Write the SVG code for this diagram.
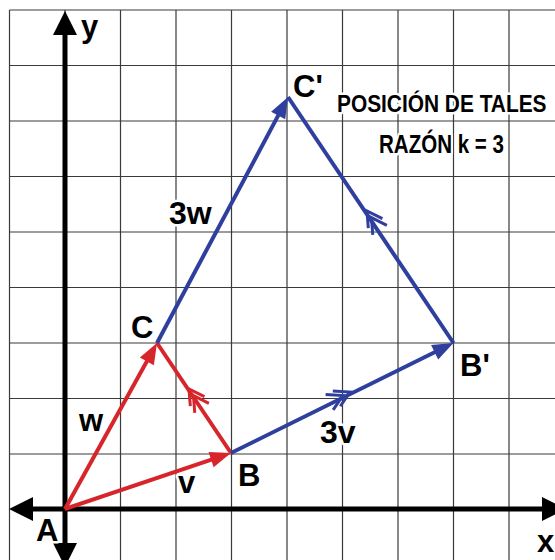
<svg xmlns="http://www.w3.org/2000/svg" xmlns:xlink="http://www.w3.org/1999/xlink" width="555" height="560" viewBox="0 0 555 560">
<style>
.grid line{stroke:#3a3a3a;stroke-width:1.2}
.axis{stroke:#000;stroke-width:5}
.red{stroke:#d7262b;stroke-width:4;fill:none}
.blue{stroke:#2f3f9e;stroke-width:4;fill:none}
.lbl{font-family:"Liberation Sans",Arial,sans-serif;font-weight:bold;font-size:31px;fill:#000;stroke:#fff;stroke-width:5;stroke-linejoin:round;paint-order:stroke fill}
.ttl{font-family:"Liberation Sans",Arial,sans-serif;font-weight:bold;fill:#000;stroke:#fff;stroke-width:5;stroke-linejoin:round;paint-order:stroke fill}
</style>
<defs>
<marker id="ahR" markerUnits="userSpaceOnUse" markerWidth="30" markerHeight="30" viewBox="-25 -15 30 30" refX="-12" refY="0" orient="auto" overflow="visible"><path d="M0,0 L-21,-8 L-21,8 Z" fill="#d7262b"/></marker>
<marker id="ahB" markerUnits="userSpaceOnUse" markerWidth="30" markerHeight="30" viewBox="-25 -15 30 30" refX="-12" refY="0" orient="auto" overflow="visible"><path d="M0,0 L-21,-8 L-21,8 Z" fill="#2f3f9e"/></marker>
<path id="chev" d="M-15,-8.5 L0,0 L-15,8.5 M-23,-8.5 L-8,0 L-23,8.5" fill="none" stroke-width="3"/>
</defs>
<rect width="555" height="560" fill="#fff"/>
<g class="grid">
<line x1="9.5" y1="10" x2="9.5" y2="560"/>
<line x1="65" y1="10" x2="65" y2="560"/>
<line x1="120.5" y1="10" x2="120.5" y2="560"/>
<line x1="176" y1="10" x2="176" y2="560"/>
<line x1="231.5" y1="10" x2="231.5" y2="560"/>
<line x1="287" y1="10" x2="287" y2="560"/>
<line x1="342.5" y1="10" x2="342.5" y2="560"/>
<line x1="398" y1="10" x2="398" y2="560"/>
<line x1="453.5" y1="10" x2="453.5" y2="560"/>
<line x1="509" y1="10" x2="509" y2="560"/>
<line x1="9.5" y1="10" x2="555" y2="10"/>
<line x1="9.5" y1="65.5" x2="555" y2="65.5"/>
<line x1="9.5" y1="121" x2="555" y2="121"/>
<line x1="9.5" y1="176.5" x2="555" y2="176.5"/>
<line x1="9.5" y1="232" x2="555" y2="232"/>
<line x1="9.5" y1="287.5" x2="555" y2="287.5"/>
<line x1="9.5" y1="343" x2="555" y2="343"/>
<line x1="9.5" y1="398.5" x2="555" y2="398.5"/>
<line x1="9.5" y1="454" x2="555" y2="454"/>
</g>
<g id="axes">
<line class="axis" x1="65" y1="30" x2="65" y2="545"/>
<line class="axis" x1="30" y1="509" x2="545" y2="509"/>
<polygon points="65,11 53,35 77,35" fill="#000"/>
<polygon points="65,567 53,543 77,543" fill="#000"/>
<polygon points="9,509 33,497 33,521" fill="#000"/>
<polygon points="566,509 542,497 542,521" fill="#000"/>
</g>
<g id="connectors">
<line class="red" x1="65" y1="509" x2="219.6" y2="456.8" marker-end="url(#ahR)"/>
<line class="red" x1="65" y1="509" x2="151.2" y2="353.5" marker-end="url(#ahR)"/>
<line class="red" x1="231" y1="453" x2="157" y2="343"/>
<use href="#chev" xlink:href="#chev" stroke="#d7262b" transform="translate(189,389) rotate(-123.9)"/>
<line class="blue" x1="157" y1="343" x2="282.4" y2="107.6" marker-end="url(#ahB)"/>
<line class="blue" x1="231" y1="453" x2="442.7" y2="348.3" marker-end="url(#ahB)"/>
<line class="blue" x1="453.5" y1="343" x2="288" y2="97"/>
<use href="#chev" xlink:href="#chev" stroke="#2f3f9e" transform="translate(367,211) rotate(-123.9)"/>
<use href="#chev" xlink:href="#chev" stroke="#2f3f9e" transform="translate(350,392) rotate(-26.3)"/>
</g>
<g id="labels">
<text class="lbl" x="81" y="37">y</text>
<text class="lbl" x="537" y="552">x</text>
<text id="A" class="lbl" x="36" y="541">A</text>
<text id="B" class="lbl" x="238" y="486">B</text>
<text id="C" class="lbl" x="131" y="338">C</text>
<text id="Cp" class="lbl" x="293" y="97">C'</text>
<text id="Bp" class="lbl" x="460" y="376">B'</text>
<text class="lbl" x="178" y="493">v</text>
<text class="lbl" x="79" y="431">w</text>
<text class="lbl" x="320" y="443" style="font-size:32px">3v</text>
<text class="lbl" x="169" y="224" style="font-size:32px">3w</text>
<text class="ttl" x="0" y="0" font-size="24" transform="translate(337,112) scale(0.87,1)">POSICIÓN DE TALES</text>
<text class="ttl" x="0" y="0" font-size="26" transform="translate(379,153) scale(0.79,1)">RAZÓN k = 3</text>
</g>
</svg>
